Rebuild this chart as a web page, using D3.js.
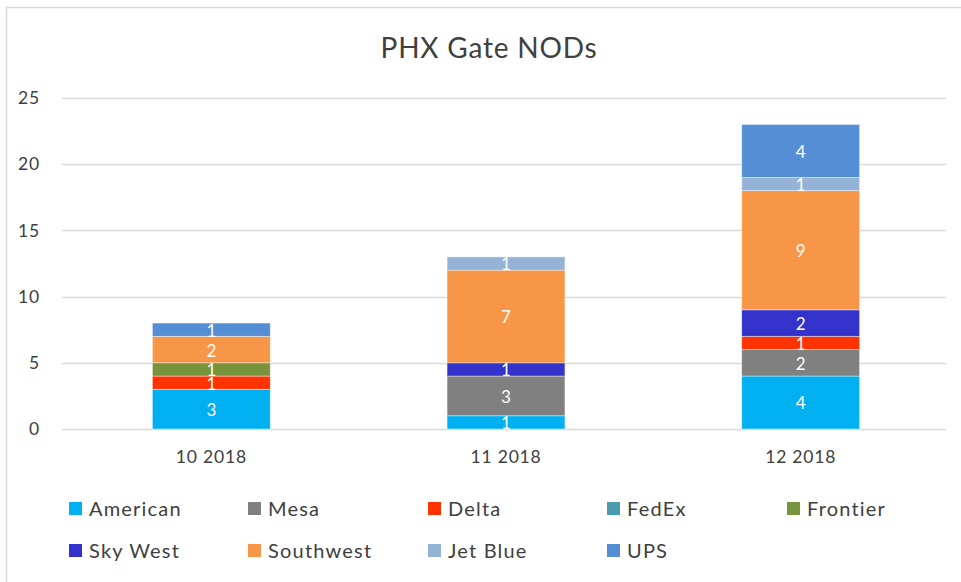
<!DOCTYPE html>
<html>
<head>
<meta charset="utf-8">
<script src="https://cdn.jsdelivr.net/npm/d3@7"></script>
<style>
body{margin:0;background:#fff;}
text{font-family:Lato,"Open Sans",sans-serif;}
</style>
</head>
<body>
<svg width="961" height="582"></svg>
<script>
// data
var months = ["10 2018", "11 2018", "12 2018"];
var carriers = ["American", "Mesa", "Delta", "FedEx", "Frontier", "Sky West", "Southwest", "Jet Blue", "UPS"];
var colors = ["#00B0F0", "#808080", "#FF3300", "#4A9CAE", "#77933C", "#3333CC", "#F79646", "#95B3D7", "#558ED5"];
var american = [3, 1, 4];
var mesa = [0, 3, 2];
var delta = [1, 0, 1];
var fedex = [0, 0, 0];
var frontier = [1, 0, 0];
var skyWest = [0, 1, 2];
var southwest = [2, 7, 9];
var jetBlue = [0, 1, 1];
var ups = [1, 0, 4];
var yTicks = [0, 5, 10, 15, 20, 25];

var series = [american, mesa, delta, fedex, frontier, skyWest, southwest, jetBlue, ups];
var table = months.map(function(m, i){
	var row = {month: m};
	carriers.forEach(function(c, j){ row[c] = series[j][i]; });
	return row;
});

var svg = d3.select("svg");
svg.append("rect").attr("x", 6.5).attr("y", 7.5).attr("width", 1000).attr("height", 1000)
	.attr("fill", "none").attr("stroke", "#d9d9d9").attr("stroke-width", 1.5);

svg.append("text").attr("x", 489).attr("y", 58).attr("text-anchor", "middle")
	.attr("font-size", 28).attr("letter-spacing", 0.8).attr("fill", "#404040").text("PHX Gate NODs");

var x = d3.scaleBand().domain(months).range([64, 948]).paddingInner(0.6).paddingOuter(0.3);
var y = d3.scaleLinear().domain([0, 25]).range([429, 98]);

var g = svg.append("g");
g.selectAll(".grid").data(yTicks).enter().append("line")
	.attr("x1", 62).attr("x2", 946)
	.attr("y1", function(d){ return Math.round(y(d)) + 0.5; })
	.attr("y2", function(d){ return Math.round(y(d)) + 0.5; })
	.attr("stroke", "#d9d9d9").attr("stroke-width", 1.3);

var yAxis = g.append("g").attr("transform", "translate(62,0)")
	.call(d3.axisLeft(y).tickValues(yTicks).tickSize(0).tickPadding(22));
yAxis.select(".domain").remove();
yAxis.selectAll("text").attr("font-size", 17.5).attr("letter-spacing", 0.8).attr("fill", "#404040").style("font-family", "Lato");

var xAxis = g.append("g").attr("transform", "translate(0,429)")
	.call(d3.axisBottom(x).tickSize(0).tickPadding(22));
xAxis.select(".domain").remove();
xAxis.selectAll("text").attr("font-size", 17.5).attr("letter-spacing", 0.8).attr("fill", "#404040").style("font-family", "Lato");

var stack = d3.stack().keys(carriers)(table);
var color = d3.scaleOrdinal().domain(carriers).range(colors);

var layers = g.selectAll(".layer").data(stack).enter().append("g")
	.attr("fill", function(d){ return color(d.key); });
layers.selectAll("rect").data(function(d){ return d.filter(function(p){ return p[1] > p[0]; }); })
	.enter().append("rect")
	.attr("x", function(d){ return x(d.data.month); })
	.attr("width", x.bandwidth())
	.attr("y", function(d){ return y(d[1]); })
	.attr("height", function(d){ return y(d[0]) - y(d[1]); })
	.attr("stroke", "rgba(255,255,255,0.5)").attr("stroke-width", 0.8);

layers.selectAll("text").data(function(d){ return d.filter(function(p){ return p[1] > p[0]; }); })
	.enter().append("text")
	.attr("x", function(d){ return x(d.data.month) + x.bandwidth() / 2; })
	.attr("y", function(d){ return (y(d[0]) + y(d[1])) / 2 + 1; })
	.attr("dy", "0.35em").attr("text-anchor", "middle")
	.attr("font-size", 17).attr("fill", "#fff")
	.text(function(d){ return d[1] - d[0]; });

// legend, 5 per row
var legX = [69, 248, 428, 607, 787];
var leg = svg.selectAll(".leg").data(carriers).enter().append("g")
	.attr("transform", function(d, i){ return "translate(" + legX[i % 5] + "," + (i < 5 ? 509 : 551) + ")"; });
leg.append("rect").attr("x", 0).attr("y", -7).attr("width", 13).attr("height", 13)
	.attr("fill", function(d){ return color(d); });
leg.append("text").attr("x", 20).attr("y", 0).attr("dy", "0.35em")
	.attr("font-size", 20).attr("letter-spacing", 1.2).attr("fill", "#404040").text(function(d){ return d; });
</script>
</body>
</html>
